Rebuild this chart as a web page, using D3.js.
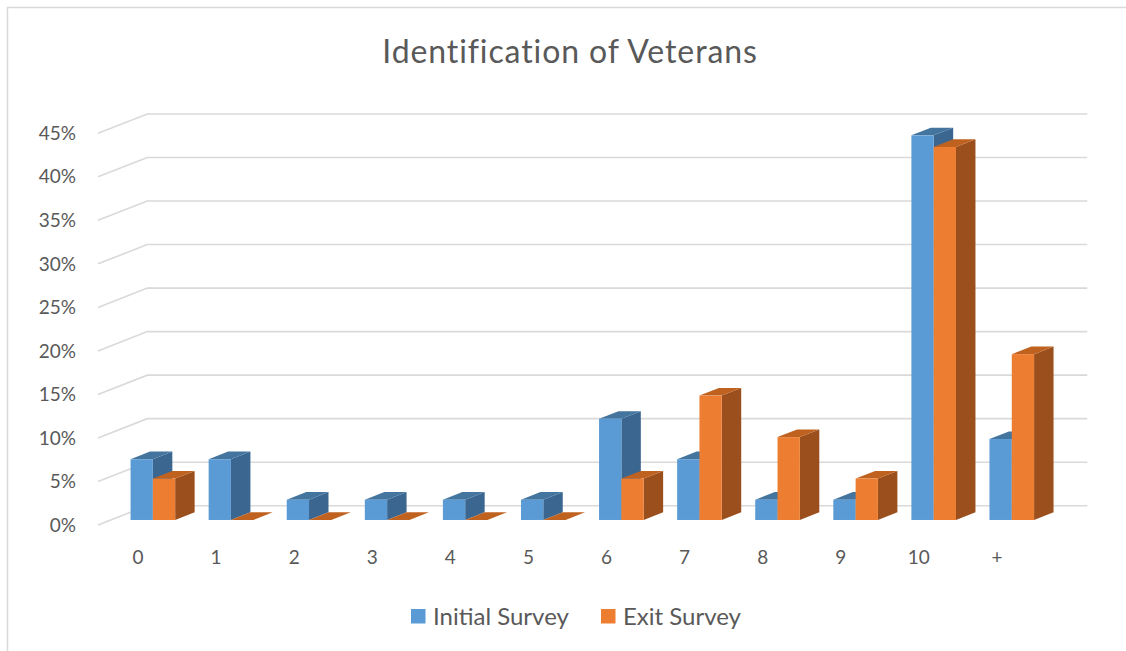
<!DOCTYPE html>
<html>
<head>
<meta charset="utf-8">
<script src="https://cdn.jsdelivr.net/npm/d3@7"></script>
<style>
  body { margin: 0; background: #fff; }
  svg { display: block; }
</style>
</head>
<body>
<svg class="chart"></svg>
<script>
// Identification of Veterans - 3D clustered columns (Excel look)

var categories = ["0", "1", "2", "3", "4", "5", "6", "7", "8", "9", "10", "+"];
var initialSurvey = [0.0698, 0.0698, 0.0233, 0.0233, 0.0233, 0.0233, 0.1163, 0.0698, 0.0233, 0.0233, 0.4419, 0.0930];
var exitSurvey = [0.0476, 0, 0, 0, 0, 0, 0.0476, 0.1429, 0.0952, 0.0476, 0.4286, 0.1905];
var yTicks = [0, 0.05, 0.10, 0.15, 0.20, 0.25, 0.30, 0.35, 0.40, 0.45];
var seriesNames = ["Initial Survey", "Exit Survey"];

var width = 1126, height = 651;
var font = "Lato, 'Open Sans', sans-serif";
var textColor = "#595959";

var svg = d3.select(".chart")
    .attr("width", width)
    .attr("height", height);

// outer chart border (runs off right/bottom edge)
svg.append("rect")
    .attr("x", 7.5).attr("y", 7.5)
    .attr("width", width + 20).attr("height", height + 20)
    .attr("fill", "none")
    .attr("stroke", "#d9d9d9")
    .attr("stroke-width", 1.5);

// oblique projection: floor front-left corner + depth vector
var floorX0 = 98, floorY0 = 525;
var depth = { dx: 49.3, dy: -19.3 };
var barFront = 0.26;  // bar front sits this far back into the floor
var barDepth = 0.395; // bar depth as a fraction of floor depth

var x = d3.scaleBand()
    .domain(categories)
    .range([101, 1038]);

var y = d3.scaleLinear()
    .domain([0, 0.45])
    .range([0, 391.7]); // height in px

// gridlines: short diagonal on the side wall, then along the back wall
var grid = svg.append("g").attr("class", "grid");
yTicks.forEach(function(t) {
    var yf = floorY0 - y(t);
    var pts = [[floorX0, yf],
               [floorX0 + depth.dx, yf + depth.dy],
               [x.range()[1] + depth.dx, yf + depth.dy]];
    grid.append("polyline")
        .attr("points", pts.map(function(p) { return p.join(","); }).join(" "))
        .attr("fill", "none")
        .attr("stroke", "#d9d9d9")
        .attr("stroke-width", 1.6);
});

// y labels
svg.append("g").selectAll("text")
    .data(yTicks)
    .enter().append("text")
    .attr("x", 76)
    .attr("y", function(d) { return floorY0 - y(d); })
    .attr("dy", "0.35em")
    .attr("text-anchor", "end")
    .style("font-family", font)
    .style("font-size", "19px")
    .style("fill", textColor)
    .text(d3.format(".0%"));

// category labels
svg.append("g").selectAll("text")
    .data(categories)
    .enter().append("text")
    .attr("x", function(d) { return x(d) + x.bandwidth() / 2 - 2; })
    .attr("y", 557)
    .attr("dy", "0.35em")
    .attr("text-anchor", "middle")
    .style("font-family", font)
    .style("font-size", "19px")
    .style("fill", textColor)
    .text(function(d) { return d; });

// bars
var colors = [
    { front: "#5b9bd5", top: "#44759f", side: "#3b6690" },
    { front: "#ed7d31", top: "#c0621f", side: "#9a4f1c" }
];
var barW = 22.3;
var ox = barFront * depth.dx, oy = barFront * depth.dy;
var bx = barDepth * depth.dx, by = barDepth * depth.dy;

var bars = [];
categories.forEach(function(c, i) {
    [initialSurvey[i], exitSurvey[i]].forEach(function(v, s) {
        var x0 = x(c) + x.bandwidth() / 2 - barW + s * barW + ox;
        bars.push({ x0: x0, yb: floorY0 + oy, h: y(v), s: s });
    });
});

function poly(pts) {
    return pts.map(function(p) { return p.join(","); }).join(" ");
}

var barG = svg.append("g").attr("class", "bars");
bars.forEach(function(b) {
    var x0 = b.x0, x1 = b.x0 + barW, yb = b.yb, yt = b.yb - b.h;
    var c = colors[b.s];
    // side face
    barG.append("polygon")
        .attr("points", poly([[x1, yb], [x1 + bx, yb + by], [x1 + bx, yt + by], [x1, yt]]))
        .attr("fill", c.side);
    // top face
    barG.append("polygon")
        .attr("points", poly([[x0, yt], [x1, yt], [x1 + bx, yt + by], [x0 + bx, yt + by]]))
        .attr("fill", c.top);
    // front face
    barG.append("rect")
        .attr("x", x0).attr("y", yt)
        .attr("width", barW).attr("height", b.h)
        .attr("fill", c.front);
});

// title
svg.append("text")
    .attr("x", 570)
    .attr("y", 62.7)
    .attr("text-anchor", "middle")
    .style("font-family", font)
    .style("font-size", "32px")
    .style("letter-spacing", "0.9px")
    .style("fill", textColor)
    .text("Identification of Veterans");

// legend
var legendX = [411, 601];
var legend = svg.append("g").attr("class", "legend");
seriesNames.forEach(function(name, i) {
    legend.append("rect")
        .attr("x", legendX[i]).attr("y", 609)
        .attr("width", 14.5).attr("height", 14.5)
        .attr("fill", colors[i].front);
    legend.append("text")
        .attr("x", legendX[i] + 22)
        .attr("y", 625)
        .style("font-family", font)
        .style("font-size", "24px")
        .style("fill", textColor)
        .text(name);
});
</script>
</body>
</html>
